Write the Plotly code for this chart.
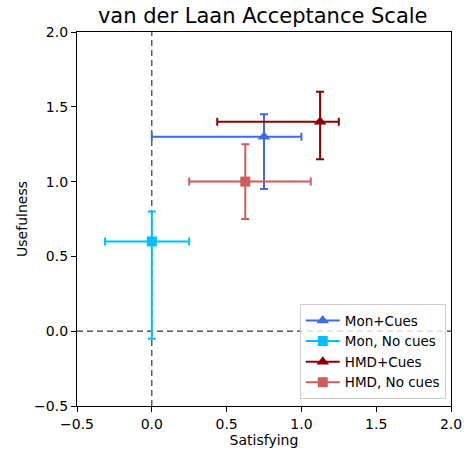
import plotly.graph_objects as go

# Data
labels = ["Mon+Cues", "Mon, No cues", "HMD+Cues", "HMD, No cues"]
satisfying = [0.75, 0.0, 1.125, 0.625]
usefulness = [1.30, 0.60, 1.40, 1.00]
sat_lo = [0.0, -0.3125, 0.4375, 0.25]
sat_hi = [1.0, 0.25, 1.25, 1.0625]
use_lo = [0.95, -0.05, 1.15, 0.75]
use_hi = [1.45, 0.80, 1.60, 1.25]
colors = ["#4169E1", "#00BFFF", "#8B0000", "#CD5C5C"]
symbols = ["triangle-up", "square", "triangle-up", "square"]
tick_vals = [-0.5, 0.0, 0.5, 1.0, 1.5, 2.0]
tick_text = ["\u22120.5", "0.0", "0.5", "1.0", "1.5", "2.0"]

FONT = "DejaVu Sans"
fig = go.Figure()

for i in range(len(labels)):
    x, y = satisfying[i], usefulness[i]
    fig.add_trace(go.Scatter(
        x=[x], y=[y], name=labels[i], mode="lines+markers",
        line=dict(color=colors[i], width=2),
        marker=dict(color=colors[i], symbol=symbols[i], size=10 if symbols[i] == "square" else 11),
        error_x=dict(type="data", symmetric=False, array=[sat_hi[i] - x], arrayminus=[x - sat_lo[i]],
                     color=colors[i], thickness=2, width=4),
        error_y=dict(type="data", symmetric=False, array=[use_hi[i] - y], arrayminus=[y - use_lo[i]],
                     color=colors[i], thickness=2, width=4),
    ))

dash_color = "rgba(0,0,0,0.8)"
fig.add_shape(type="line", xref="x", yref="paper", x0=0, x1=0, y0=0, y1=1,
              line=dict(color=dash_color, width=1.2, dash="6px,4px"), layer="below")
fig.add_shape(type="line", xref="paper", yref="y", x0=0, x1=1, y0=0, y1=0,
              line=dict(color=dash_color, width=1.2, dash="6px,4px"), layer="below")

axis_common = dict(
    tickvals=tick_vals, ticktext=tick_text, ticks="outside", ticklen=5, tickwidth=1.2,
    tickcolor="black", showline=True, linecolor="black", linewidth=1.2, mirror=True,
    showgrid=False, zeroline=False, automargin=False,
    tickfont=dict(family=FONT, size=14, color="black"),
)

fig.update_layout(
    width=465, height=450, autosize=False,
    margin=dict(l=77, r=14, t=32, b=44, pad=0),
    paper_bgcolor="white", plot_bgcolor="white",
    title=dict(text="van der Laan Acceptance Scale", x=0.565, xanchor="center",
               y=0.965, yanchor="middle", font=dict(family=FONT, size=21, color="black")),
    xaxis=dict(range=[-0.5, 2.0], title=dict(text="Satisfying", font=dict(family=FONT, size=14, color="black"), standoff=2), **axis_common),
    yaxis=dict(range=[-0.5, 2.0], title=dict(text="Usefulness", font=dict(family=FONT, size=14, color="black"), standoff=3), **axis_common),
    legend=dict(x=0.986, y=0.018, xanchor="right", yanchor="bottom",
                bgcolor="rgba(255,255,255,0.8)", bordercolor="#cccccc", borderwidth=1,
                font=dict(family=FONT, size=13.5, color="black"), tracegroupgap=0,
                itemwidth=34),
    showlegend=True,
)

fig.write_html("out.html")
